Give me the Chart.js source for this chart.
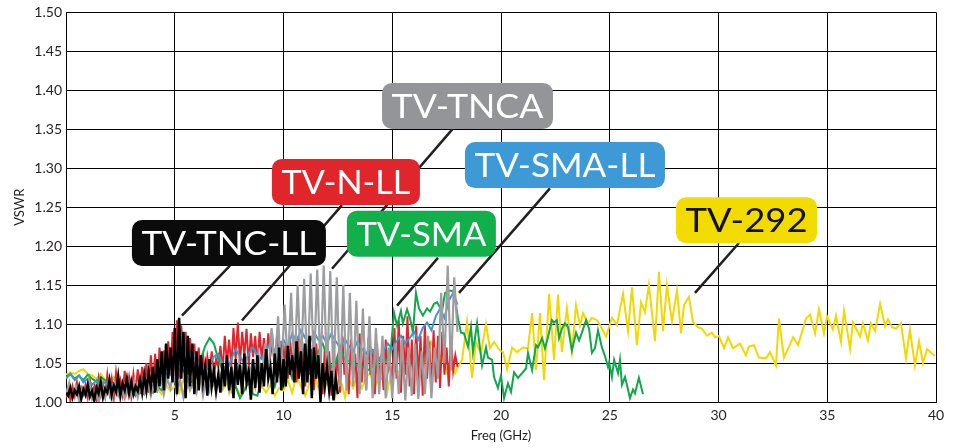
<!DOCTYPE html>
<html>
<head>
<meta charset="utf-8">
<script src="https://cdn.jsdelivr.net/npm/chart.js@4.4.1/dist/chart.umd.min.js"></script>
<style>
  html, body { margin: 0; padding: 0; background: #fff; }
  canvas { display: block; }
</style>
</head>
<body>
<canvas id="myChart" width="962" height="448"></canvas>
<script>
// frequency grids for the densely sampled traces (GHz)
const grid = (start, step, n) => Array.from({ length: n }, (_, i) => +(start + i * step).toFixed(3));

// TV-TNC-LL, 0 - 12.5 GHz every 0.1 GHz
const tncllFreq = grid(0, 0.1, 126);
const tncllVswr = [
    1.012, 1.008, 1.018, 1.006, 1.015, 1.010, 1.020, 1.004, 1.016, 1.009,
    1.022, 1.007, 1.014, 1.002, 1.019, 1.011, 1.025, 1.006, 1.017, 1.012,
    1.028, 1.009, 1.021, 1.013, 1.033, 1.008, 1.024, 1.015, 1.030, 1.011,
    1.026, 1.010, 1.020, 1.014, 1.029, 1.012, 1.035, 1.015, 1.038, 1.019,
    1.045, 1.012, 1.055, 1.020, 1.065, 1.015, 1.075, 1.030, 1.070, 1.025,
    1.095, 1.010, 1.108, 1.030, 1.090, 1.005, 1.085, 1.020, 1.075, 1.010,
    1.065, 1.015, 1.060, 1.025, 1.045, 1.008, 1.055, 1.020, 1.040, 1.015,
    1.035, 1.012, 1.050, 1.020, 1.060, 1.015, 1.045, 1.005, 1.055, 1.022,
    1.048, 1.010, 1.062, 1.025, 1.040, 1.003, 1.055, 1.018, 1.060, 1.012,
    1.050, 1.020, 1.068, 1.030, 1.045, 1.010, 1.062, 1.025, 1.070, 1.015,
    1.055, 1.020, 1.072, 1.035, 1.060, 1.025, 1.078, 1.030, 1.065, 1.010,
    1.075, 1.025, 1.085, 1.005, 1.070, 1.030, 1.060, 1.000, 1.050, 1.020,
    1.045, 1.015, 1.040, 1.002, 1.030, 1.010
];

// TV-N-LL, 0 - 18 GHz every 0.1 GHz
const nllFreq = grid(0, 0.1, 181);
const nllVswr = [
    1.005, 1.015, 1.002, 1.020, 1.008, 1.025, 1.003, 1.018, 1.010, 1.022,
    1.006, 1.028, 1.012, 1.020, 1.004, 1.030, 1.010, 1.024, 1.008, 1.035,
    1.012, 1.030, 1.006, 1.038, 1.015, 1.028, 1.010, 1.040, 1.014, 1.032,
    1.008, 1.036, 1.015, 1.042, 1.010, 1.045, 1.020, 1.050, 1.012, 1.060,
    1.025, 1.062, 1.018, 1.070, 1.030, 1.066, 1.022, 1.078, 1.035, 1.090,
    1.040, 1.105, 1.030, 1.098, 1.045, 1.090, 1.035, 1.082, 1.040, 1.075,
    1.030, 1.070, 1.035, 1.062, 1.028, 1.058, 1.040, 1.065, 1.032, 1.055,
    1.045, 1.072, 1.040, 1.085, 1.050, 1.080, 1.045, 1.095, 1.055, 1.102,
    1.050, 1.090, 1.060, 1.094, 1.048, 1.088, 1.058, 1.085, 1.045, 1.090,
    1.055, 1.082, 1.050, 1.088, 1.060, 1.080, 1.045, 1.085, 1.055, 1.078,
    1.040, 1.075, 1.030, 1.080, 1.050, 1.070, 1.025, 1.085, 1.045, 1.065,
    1.020, 1.072, 1.035, 1.068, 1.015, 1.075, 1.040, 1.060, 1.010, 1.070,
    1.030, 1.065, 1.008, 1.078, 1.025, 1.060, 1.012, 1.085, 1.035, 1.055,
    1.010, 1.080, 1.030, 1.062, 1.005, 1.088, 1.025, 1.070, 1.015, 1.082,
    1.035, 1.068, 1.010, 1.075, 1.028, 1.060, 1.015, 1.080, 1.040, 1.050,
    1.020, 1.095, 1.030, 1.105, 1.012, 1.085, 1.035, 1.110, 1.020, 1.080,
    1.010, 1.098, 1.025, 1.085, 1.008, 1.100, 1.030, 1.078, 1.012, 1.092,
    1.025, 1.085, 1.018, 1.090, 1.035, 1.070, 1.020, 1.085, 1.040, 1.060,
    1.045
];

// TV-TNCA, 0 - 18 GHz every 0.15 GHz
const tncaFreq = grid(0, 0.15, 121);
const tncaVswr = [
    1.010, 1.025, 1.005, 1.020, 1.002, 1.018, 1.008, 1.028, 1.004, 1.015,
    1.000, 1.022, 1.006, 1.017, 1.003, 1.024, 1.008, 1.019, 1.005, 1.026,
    1.010, 1.028, 1.006, 1.022, 1.012, 1.030, 1.008, 1.025, 1.015, 1.035,
    1.010, 1.030, 1.018, 1.040, 1.012, 1.028, 1.006, 1.032, 1.015, 1.025,
    1.012, 1.035, 1.008, 1.030, 1.015, 1.042, 1.010, 1.038, 1.020, 1.045,
    1.015, 1.040, 1.025, 1.050, 1.018, 1.055, 1.030, 1.048, 1.022, 1.060,
    1.030, 1.075, 1.035, 1.095, 1.040, 1.110, 1.030, 1.125, 1.045, 1.140,
    1.035, 1.150, 1.040, 1.158, 1.030, 1.165, 1.040, 1.170, 1.035, 1.175,
    1.030, 1.168, 1.025, 1.160, 1.020, 1.150, 1.015, 1.140, 1.020, 1.130,
    1.010, 1.120, 1.015, 1.110, 1.005, 1.095, 1.010, 1.085, 1.005, 1.070,
    1.005, 1.075, 1.010, 1.080, 1.002, 1.070, 1.008, 1.075, 1.004, 1.065,
    1.010, 1.085, 1.005, 1.070, 1.030, 1.140, 1.050, 1.175, 1.040, 1.160,
    1.090
];

// TV-SMA-LL, 0 - 18 GHz every 0.2 GHz
const smallFreq = grid(0, 0.2, 91);
const smallVswr = [
    1.030, 1.036, 1.028, 1.034, 1.025, 1.030, 1.022, 1.028, 1.020, 1.026,
    1.018, 1.024, 1.015, 1.022, 1.012, 1.020, 1.010, 1.018, 1.015, 1.024,
    1.020, 1.030, 1.025, 1.040, 1.035, 1.050, 1.045, 1.060, 1.050, 1.065,
    1.055, 1.045, 1.038, 1.050, 1.058, 1.062, 1.048, 1.040, 1.055, 1.068,
    1.058, 1.050, 1.062, 1.070, 1.060, 1.055, 1.068, 1.075, 1.065, 1.072,
    1.080, 1.070, 1.088, 1.078, 1.092, 1.082, 1.075, 1.090, 1.080, 1.085,
    1.075, 1.088, 1.078, 1.070, 1.082, 1.072, 1.065, 1.078, 1.068, 1.062,
    1.070, 1.060, 1.055, 1.065, 1.075, 1.068, 1.078, 1.085, 1.075, 1.082,
    1.090, 1.080, 1.095, 1.102, 1.092, 1.110, 1.120, 1.108, 1.130, 1.140,
    1.125
];

// TV-SMA, 0 - 12.8 GHz every 0.2 GHz, then read point by point to 26.5 GHz
const smaFreq = grid(0, 0.2, 65);
const smaVswr = [
    1.032, 1.036, 1.030, 1.034, 1.028, 1.035, 1.030, 1.026, 1.032, 1.028,
    1.022, 1.015, 1.018, 1.010, 1.020, 1.012, 1.008, 1.015, 1.010, 1.018,
    1.012, 1.020, 1.015, 1.030, 1.045, 1.058, 1.050, 1.040, 1.030, 1.025,
    1.035, 1.055, 1.072, 1.082, 1.075, 1.055, 1.040, 1.030, 1.025, 1.020,
    1.005, 1.015, 1.025, 1.010, 1.008, 1.030, 1.045, 1.035, 1.020, 1.040,
    1.055, 1.045, 1.030, 1.050, 1.070, 1.060, 1.040, 1.035, 1.065, 1.075,
    1.060, 1.045, 1.050, 1.070, 1.055
];
const smaTail = [
    [13.20, 1.050], [13.43, 1.046], [13.66, 1.045], [13.89, 1.041], [14.11, 1.045],
    [14.44, 1.054], [14.67, 1.054], [14.90, 1.056], [15.08, 1.115], [15.22, 1.098],
    [15.40, 1.117], [15.49, 1.101], [15.68, 1.119], [15.82, 1.107], [15.95, 1.089],
    [16.09, 1.140], [16.23, 1.120], [16.41, 1.111], [16.60, 1.120], [16.74, 1.116],
    [16.92, 1.126], [17.06, 1.128], [17.29, 1.117], [17.43, 1.140], [17.61, 1.143],
    [17.84, 1.142], [18.02, 1.108], [18.16, 1.089], [18.30, 1.088], [18.48, 1.071],
    [18.62, 1.096], [18.71, 1.064], [18.90, 1.101], [18.99, 1.079], [19.13, 1.047],
    [19.31, 1.070], [19.40, 1.057], [19.59, 1.054], [19.68, 1.032], [19.86, 1.018],
    [20.00, 1.034], [20.14, 1.005], [20.32, 1.024], [20.46, 1.013], [20.60, 1.038],
    [20.78, 1.031], [20.97, 1.037], [21.15, 1.043], [21.24, 1.063], [21.43, 1.041],
    [21.61, 1.073], [21.70, 1.070], [21.89, 1.082], [22.02, 1.069], [22.16, 1.083],
    [22.34, 1.105], [22.44, 1.102], [22.57, 1.105], [22.67, 1.082], [22.80, 1.094],
    [22.94, 1.101], [23.08, 1.096], [23.26, 1.066], [23.45, 1.089], [23.59, 1.079],
    [23.72, 1.089], [23.91, 1.105], [24.05, 1.094], [24.18, 1.063], [24.32, 1.069],
    [24.46, 1.092], [24.64, 1.070], [24.78, 1.059], [24.92, 1.045], [24.97, 1.051],
    [25.10, 1.032], [25.20, 1.054], [25.38, 1.037], [25.47, 1.054], [25.56, 1.022],
    [25.70, 1.032], [25.79, 1.022], [25.93, 1.005], [26.07, 1.016], [26.16, 1.011],
    [26.34, 1.031], [26.53, 1.010]
];

// TV-292, 0 - 12 GHz every 0.2 GHz, then read point by point to 40 GHz
const t292Freq = grid(0, 0.2, 61);
const t292Vswr = [
    1.035, 1.038, 1.036, 1.040, 1.042, 1.036, 1.034, 1.030, 1.036, 1.028,
    1.024, 1.032, 1.018, 1.026, 1.015, 1.022, 1.012, 1.020, 1.010, 1.016,
    1.012, 1.018, 1.010, 1.022, 1.014, 1.020, 1.012, 1.028, 1.018, 1.030,
    1.022, 1.035, 1.040, 1.030, 1.020, 1.028, 1.015, 1.025, 1.012, 1.020,
    1.010, 1.018, 1.025, 1.015, 1.030, 1.020, 1.012, 1.022, 1.008, 1.018,
    1.015, 1.028, 1.012, 1.035, 1.020, 1.008, 1.025, 1.040, 1.018, 1.030,
    1.022
];
const t292Tail = [
    [12.14, 1.031], [12.37, 1.006], [12.51, 1.028], [12.69, 1.022], [12.83, 1.006],
    [12.97, 1.031], [13.20, 1.018], [13.38, 1.034], [13.61, 1.018], [13.79, 1.032],
    [13.98, 1.037], [14.21, 1.019], [14.39, 1.034], [14.57, 1.028], [14.76, 1.011],
    [14.99, 1.045], [15.22, 1.038], [15.45, 1.041], [15.68, 1.060], [15.95, 1.054],
    [16.14, 1.060], [16.37, 1.045], [16.60, 1.057], [16.78, 1.077], [17.01, 1.064],
    [17.29, 1.057], [17.52, 1.038], [17.70, 1.054], [17.89, 1.037], [18.02, 1.045],
    [18.21, 1.054], [18.44, 1.103], [18.67, 1.031], [18.85, 1.077], [19.08, 1.062],
    [19.31, 1.100], [19.49, 1.069], [19.68, 1.077], [19.95, 1.066], [20.09, 1.064],
    [20.28, 1.042], [20.51, 1.070], [20.74, 1.064], [21.01, 1.070], [21.24, 1.069],
    [21.43, 1.114], [21.61, 1.041], [21.79, 1.114], [21.98, 1.028], [22.21, 1.139],
    [22.44, 1.054], [22.62, 1.138], [22.80, 1.064], [23.03, 1.120], [23.26, 1.065],
    [23.45, 1.124], [23.63, 1.098], [23.77, 1.114], [24.00, 1.101], [24.18, 1.108],
    [24.41, 1.105], [24.55, 1.099], [24.83, 1.084], [25.10, 1.108], [25.33, 1.099],
    [25.61, 1.139], [25.84, 1.091], [26.02, 1.147], [26.25, 1.073], [26.44, 1.128],
    [26.62, 1.115], [26.80, 1.150], [27.08, 1.078], [27.26, 1.167], [27.45, 1.091],
    [27.63, 1.150], [27.86, 1.103], [28.09, 1.143], [28.28, 1.088], [28.41, 1.124],
    [28.64, 1.135], [28.83, 1.102], [29.06, 1.096], [29.24, 1.094], [29.47, 1.085],
    [29.70, 1.089], [29.84, 1.083], [30.02, 1.085], [30.25, 1.069], [30.44, 1.083],
    [30.67, 1.069], [30.99, 1.075], [31.26, 1.060], [31.40, 1.071], [31.63, 1.073],
    [31.86, 1.057], [32.18, 1.056], [32.37, 1.064], [32.64, 1.047], [32.78, 1.107],
    [33.01, 1.057], [33.43, 1.083], [33.66, 1.073], [34.02, 1.107], [34.21, 1.112],
    [34.44, 1.088], [34.62, 1.119], [34.85, 1.088], [34.99, 1.110], [35.26, 1.093],
    [35.40, 1.111], [35.63, 1.077], [35.77, 1.117], [36.05, 1.068], [36.18, 1.102],
    [36.51, 1.084], [36.64, 1.101], [36.87, 1.079], [37.01, 1.101], [37.20, 1.091],
    [37.43, 1.126], [37.66, 1.097], [37.79, 1.106], [37.98, 1.096], [38.16, 1.094],
    [38.39, 1.101], [38.62, 1.056], [38.80, 1.093], [39.03, 1.047], [39.22, 1.078],
    [39.40, 1.050], [39.59, 1.068], [39.95, 1.059]
];

// axis ticks
const xTicks = [5, 10, 15, 20, 25, 30, 35, 40];
const yTicks = [1.00, 1.05, 1.10, 1.15, 1.20, 1.25, 1.30, 1.35, 1.40, 1.45, 1.50];

// callout boxes: center and leader line given in data units
const callouts = [
    { text: "TV-TNC-LL", fill: "#0b0b0b", color: "#fff", cx: 7.49, cy: 1.204, w: 194, from: [7.54, 1.175], to: [5.33, 1.111] },
    { text: "TV-N-LL", fill: "#e0262b", color: "#fff", cx: 12.87, cy: 1.2825, w: 148, from: [12.69, 1.2526], to: [8.09, 1.1046] },
    { text: "TV-TNCA", fill: "#939598", color: "#fff", cx: 18.46, cy: 1.380, w: 171, from: [17.79, 1.3508], to: [12.23, 1.171] },
    { text: "TV-SMA", fill: "#12b04b", color: "#fff", cx: 16.34, cy: 1.216, w: 149, from: [17.10, 1.185], to: [15.22, 1.1237] },
    { text: "TV-SMA-LL", fill: "#3d9ad6", color: "#fff", cx: 22.94, cy: 1.304, w: 200, from: [22.25, 1.2742], to: [18.07, 1.140] },
    { text: "TV-292", fill: "#f2dc00", color: "#111", cx: 31.29, cy: 1.2334, w: 141, from: [30.94, 1.204], to: [28.92, 1.140] },
];

const toPoints = (fx, fy) => fx.map((f, i) => ({ x: f, y: fy[i] }));
const pairPoints = (p) => p.map(([f, v]) => ({ x: f, y: v }));

const calloutPlugin = {
    id: "callouts",
    afterDatasetsDraw(chart) {
        const { ctx, scales: { x, y } } = chart;
        ctx.save();
        ctx.strokeStyle = "#231f20";
        ctx.lineWidth = 2.5;
        callouts.forEach((c) => {
            ctx.beginPath();
            ctx.moveTo(x.getPixelForValue(c.from[0]), y.getPixelForValue(c.from[1]));
            ctx.lineTo(x.getPixelForValue(c.to[0]), y.getPixelForValue(c.to[1]));
            ctx.stroke();
        });
        callouts.forEach((c) => {
            const px = x.getPixelForValue(c.cx);
            const py = y.getPixelForValue(c.cy);
            ctx.fillStyle = c.fill;
            ctx.beginPath();
            ctx.roundRect(px - c.w / 2, py - 23, c.w, 46, 10);
            ctx.fill();
            ctx.font = "33px Lato";
            const tw = ctx.measureText(c.text).width;
            ctx.save();
            ctx.translate(px, py + 12);
            ctx.scale((c.w - 19) / tw, 1);
            ctx.fillStyle = c.color;
            ctx.textAlign = "center";
            ctx.textBaseline = "alphabetic";
            ctx.fillText(c.text, 0, 0);
            ctx.restore();
        });
        ctx.restore();
    },
};

const ctx = document.getElementById("myChart");

new Chart(ctx, {
    type: "line",
    data: {
        datasets: [{
            label: "TV-TNC-LL",
            data: toPoints(tncllFreq, tncllVswr),
            borderColor: "#000000",
            borderWidth: 2.5,
        }, {
            label: "TV-TNCA",
            data: toPoints(tncaFreq, tncaVswr),
            borderColor: "#9d9ea0",
            borderWidth: 2.2,
        }, {
            label: "TV-SMA-LL",
            data: toPoints(smallFreq, smallVswr),
            borderColor: "#3b96d2",
            borderWidth: 2,
        }, {
            label: "TV-SMA",
            data: toPoints(smaFreq, smaVswr).concat(pairPoints(smaTail)),
            borderColor: "#10a84a",
            borderWidth: 2,
        }, {
            label: "TV-N-LL",
            data: toPoints(nllFreq, nllVswr),
            borderColor: "#e3242b",
            borderWidth: 2,
        }, {
            label: "TV-292",
            data: toPoints(t292Freq, t292Vswr).concat(pairPoints(t292Tail)),
            borderColor: "#f2d800",
            borderWidth: 2,
        }, ],
    },
    options: {
        responsive: false,
        animation: false,
        layout: {
            padding: { top: 10, right: 26, left: 0, bottom: 0 },
        },
        elements: {
            point: { radius: 0 },
            line: { tension: 0 },
        },
        plugins: {
            legend: { display: false },
            tooltip: { enabled: false },
        },
        scales: {
            x: {
                type: "linear",
                min: 0,
                max: 40,
                afterBuildTicks: (s) => { s.ticks = [0].concat(xTicks).map((v) => ({ value: v })); },
                afterFit: (s) => { s.height = 46; },
                grid: { color: "#000", lineWidth: 1, drawTicks: false },
                border: { color: "#000", width: 1 },
                ticks: {
                    padding: 5,
                    maxRotation: 0,
                    color: "#231f20",
                    font: { family: "Lato", size: 14 },
                    callback: (v) => (v === 0 ? "" : v),
                },
                title: {
                    display: true,
                    text: "Freq (GHz)",
                    color: "#231f20",
                    font: { family: "Lato", size: 13 },
                    padding: { top: 2 },
                },
            },
            y: {
                min: 1,
                max: 1.5,
                afterBuildTicks: (s) => { s.ticks = yTicks.map((v) => ({ value: v })); },
                afterFit: (s) => { s.width = 66; },
                grid: { color: "#000", lineWidth: 1, drawTicks: false },
                border: { color: "#000", width: 1 },
                ticks: {
                    padding: 4,
                    color: "#231f20",
                    font: { family: "Lato", size: 14 },
                    callback: (v) => v.toFixed(2),
                },
                title: {
                    display: true,
                    text: "VSWR",
                    color: "#231f20",
                    font: { family: "Lato", size: 13 },
                    padding: { top: 12, bottom: 0 },
                },
            },
        },
    },
    plugins: [calloutPlugin],
});
</script>
</body>
</html>
